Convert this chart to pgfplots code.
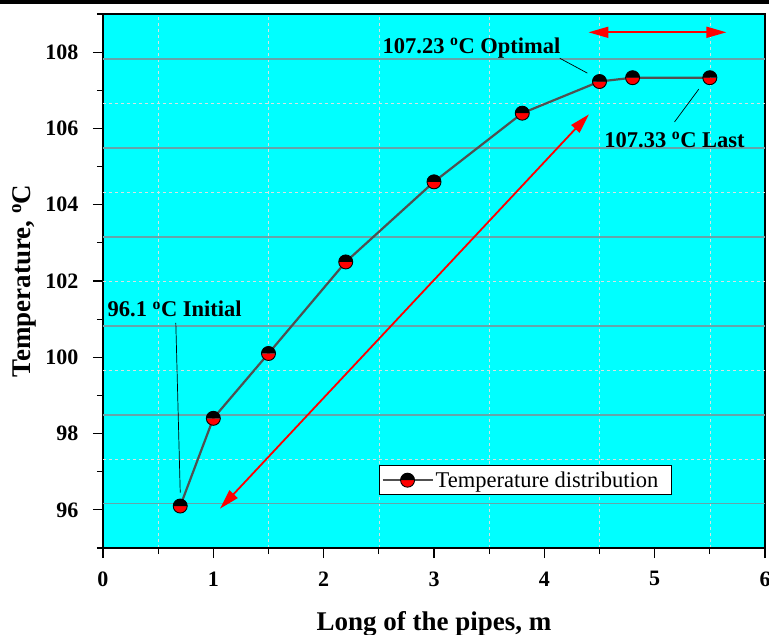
\documentclass[border=0pt]{standalone}
\usepackage{fontspec}
\setmainfont{Liberation Serif}
\usepackage{pgfplots}
\pgfplotsset{compat=1.18}
\usepackage{pgfplotstable}
\usetikzlibrary{arrows.meta}

\definecolor{bgcyan}{RGB}{0,255,255}
\definecolor{gridsolid}{RGB}{100,165,170}
\definecolor{griddash}{RGB}{215,225,225}
\definecolor{linegray}{RGB}{80,80,80}

% ball marker: black top half, red bottom half
\pgfdeclareplotmark{halfball}{%
  \pgfsetfillcolor{red}%
  \pgfpathmoveto{\pgfqpoint{\pgfplotmarksize}{0pt}}%
  \pgfpatharc{0}{-180}{\pgfplotmarksize}\pgfpathclose\pgfusepath{fill}%
  \pgfsetfillcolor{black}%
  \pgfpathmoveto{\pgfqpoint{\pgfplotmarksize}{0pt}}%
  \pgfpatharc{0}{180}{\pgfplotmarksize}\pgfpathclose\pgfusepath{fill}%
  \pgfsetstrokecolor{black}\pgfsetlinewidth{0.9pt}%
  \pgfpathcircle{\pgfpointorigin}{\pgfplotmarksize}\pgfusepath{stroke}%
}

\pgfplotstableread{
x y
0.7 96.1
1.0 98.4
1.5 100.1
2.2 102.5
3.0 104.6
3.8 106.4
4.5 107.23
4.8 107.33
5.5 107.33
}\tempdata

\begin{document}
\begin{tikzpicture}
\begin{axis}[
  at={(0,0)}, anchor=south west,
  scale only axis, width=662pt, height=534pt,
  xmin=0, xmax=6, ymin=95, ymax=109,
  xtick={0,...,6}, ytick={96,98,...,108},
  minor xtick={0.5,1.5,...,5.5}, minor ytick={95,97,...,109},
  tick align=outside, xtick pos=bottom, ytick pos=left,
  major tick length=10pt, minor tick length=6pt,
  tick style={black, line width=1.2pt},
  axis line style={black, line width=1.2pt},
  axis background/.style={fill=bgcyan},
  xminorgrids=true,
  minor x grid style={griddash, dashed, line width=0.6pt},
  tick label style={font=\bfseries\fontsize{22}{22}\selectfont},
  yticklabel style={xshift=-11pt},
  xticklabel style={yshift=-10pt},
  /pgf/number format/assume math mode=true,
  xlabel={Long of the pipes, m},
  ylabel={Temperature, \textsuperscript{o}C},
  label style={font=\bfseries\fontsize{27}{27}\selectfont},
  xlabel style={at={(axis description cs:0.5,-0.1536)}, anchor=base},
  ylabel style={at={(axis description cs:-0.1193,0.5)}, anchor=center},
  legend style={at={(axis description cs:0.417,0.099)}, anchor=south west,
    draw=black, line width=0.8pt, fill=white,
    font=\fontsize{22.5}{22.5}\selectfont,
    inner xsep=2pt, inner ysep=4pt, cells={anchor=west}},
  legend image code/.code={\draw[mark repeat=2,mark phase=2] plot coordinates {(0pt,0pt)(25pt,0pt)(50pt,0pt)};},
]
\pgfplotsinvokeforeach{96.16,98.49,100.82,103.15,105.49,107.82}{
  \draw[gridsolid, line width=1.3pt] (axis cs:0,#1) -- (axis cs:6,#1);
}
\pgfplotsinvokeforeach{97.32,99.66,101.99,104.32,106.65}{
  \draw[griddash, dashed, line width=0.6pt] (axis cs:0,#1) -- (axis cs:6,#1);
}

\addplot[linegray, line width=2.2pt, mark=halfball, mark size=7pt] table {\tempdata};
\addlegendentry{Temperature distribution\rule{9pt}{0pt}}

% red arrows
\draw[red, line width=1.8pt, {Triangle[length=20pt,width=11pt]}-{Triangle[length=20pt,width=11pt]}]
  (axis cs:1.06,96.03) -- (axis cs:4.405,106.37);
\draw[red, line width=1.8pt, {Triangle[length=20pt,width=11pt]}-{Triangle[length=20pt,width=11pt]}]
  (axis cs:4.40,108.52) -- (axis cs:5.65,108.52);

% annotations
\node[font=\bfseries\fontsize{22.5}{22.5}\selectfont, anchor=base] at (axis cs:3.34,107.97) {107.23 \textsuperscript{o}C Optimal};
\node[font=\bfseries\fontsize{22.5}{22.5}\selectfont, anchor=base] at (axis cs:5.18,105.51) {107.33 \textsuperscript{o}C Last};
\node[font=\bfseries\fontsize{22.5}{22.5}\selectfont, anchor=base] at (axis cs:0.65,101.06) {96.1 \textsuperscript{o}C Initial};
\draw[black, line width=0.7pt] (axis cs:4.14,107.84) -- (axis cs:4.39,107.45);
\draw[black, line width=0.7pt] (axis cs:5.18,106.17) -- (axis cs:5.40,107.03);
\draw[black, line width=0.7pt] (axis cs:0.66,100.90) -- (axis cs:0.70,96.45);
\end{axis}
\pgfresetboundingbox
\path[use as bounding box] (-103pt,-87pt) rectangle (666pt,548pt);
\fill[black] (-103pt,543.5pt) rectangle (666pt,548pt);
\end{tikzpicture}
\end{document}
